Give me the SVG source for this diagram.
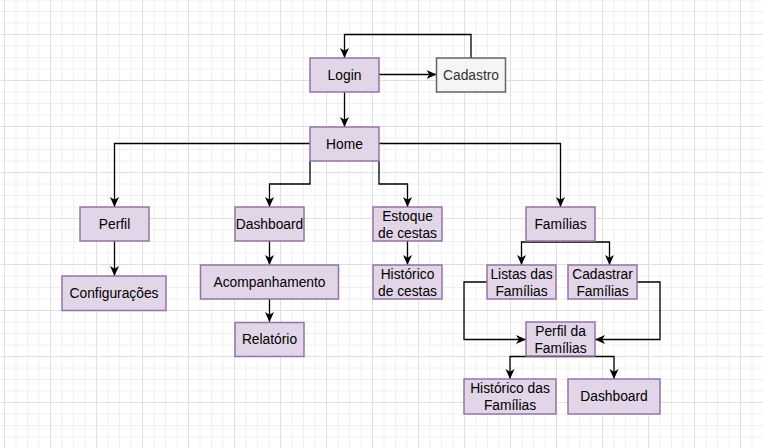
<svg xmlns="http://www.w3.org/2000/svg" width="763" height="448" viewBox="0 0 763 448">
  <defs>
    <pattern id="grid" patternUnits="userSpaceOnUse" x="4" y="-12" width="46" height="46">
      <path d="M12,0V46M23.5,0V46M35,0V46M0,12H46M0,23.5H46M0,35H46" stroke="#f0f0f0" stroke-width="1" fill="none"/>
      <path d="M0.5,0V46M0,0.5H46" stroke="#e0e0e0" stroke-width="1" fill="none"/>
    </pattern>
    <marker id="arrow" markerUnits="userSpaceOnUse" viewBox="0 0 10 10" refX="10" refY="5" markerWidth="10" markerHeight="10" orient="auto">
      <path d="M0,0.5 L10,5 L0,9.5 L2.8,5 Z" fill="#000"/>
    </marker>
  </defs>
  <style>
    .node rect { fill: #e1d5e7; stroke: #9673a6; stroke-width: 1.5; }
    .node text { font-family: "Liberation Sans", Arial, sans-serif; font-size: 13.8px; fill: #000; text-anchor: middle; }
    .gray rect { fill: #f5f5f5; stroke: #666666; }
    .gray text { fill: #333333; }
    .edges path { fill: none; stroke: #000; stroke-width: 1.3; marker-end: url(#arrow); }
  </style>
  <rect x="0" y="0" width="763" height="448" fill="#ffffff"/>
  <rect x="0" y="0" width="763" height="448" fill="url(#grid)"/>

  <g class="edges" id="connectors">
    <path d="M344.5,92 V127"/>
    <path d="M379,74.5 H436.5"/>
    <path d="M471,58 V34.5 H344.5 V58"/>
    <path d="M310,143.5 H114.5 V207"/>
    <path d="M310,161 V184 H269.5 V207"/>
    <path d="M379,161 V184 H407.5 V207"/>
    <path d="M379,143.5 H560.5 V207"/>
    <path d="M114.5,241 V276"/>
    <path d="M269.5,241 V265"/>
    <path d="M269.5,299 V322"/>
    <path d="M407.5,241 V265"/>
    <path d="M560.5,242 H521.5 V265"/>
    <path d="M560.5,242 H609.5 V265"/>
    <path d="M487,282 H464 V339.5 H526"/>
    <path d="M637,282 H660 V339.5 H595"/>
    <path d="M560.5,356.5 H510 V379"/>
    <path d="M560.5,356.5 H614 V379"/>
  </g>

  <g class="node" id="login">
    <rect x="310" y="58" width="69" height="34"/>
    <text x="344.5" y="80">Login</text>
  </g>
  <g class="node gray" id="cadastro">
    <rect x="436.5" y="58" width="69" height="34"/>
    <text x="471" y="80">Cadastro</text>
  </g>
  <g class="node" id="home">
    <rect x="310" y="127" width="69" height="34"/>
    <text x="344.5" y="149">Home</text>
  </g>
  <g class="node" id="perfil">
    <rect x="80" y="207" width="69" height="34"/>
    <text x="114.5" y="229">Perfil</text>
  </g>
  <g class="node" id="configuracoes">
    <rect x="62" y="276" width="104" height="34.5"/>
    <text x="114" y="298">Configurações</text>
  </g>
  <g class="node" id="dashboard">
    <rect x="235" y="207" width="69" height="34"/>
    <text x="269.5" y="229">Dashboard</text>
  </g>
  <g class="node" id="acompanhamento">
    <rect x="200.5" y="265" width="138" height="34"/>
    <text x="269.5" y="287">Acompanhamento</text>
  </g>
  <g class="node" id="relatorio">
    <rect x="235" y="322.5" width="69" height="34"/>
    <text x="269.5" y="344">Relatório</text>
  </g>
  <g class="node" id="estoque">
    <rect x="373" y="207" width="69" height="34"/>
    <text x="407.5" y="221">Estoque</text>
    <text x="407.5" y="238">de cestas</text>
  </g>
  <g class="node" id="historico-cestas">
    <rect x="373" y="265" width="69" height="34"/>
    <text x="407.5" y="279">Histórico</text>
    <text x="407.5" y="296">de cestas</text>
  </g>
  <g class="node" id="familias">
    <rect x="526" y="207" width="69" height="34"/>
    <text x="560.5" y="229">Famílias</text>
  </g>
  <g class="node" id="listas-familias">
    <rect x="487" y="265" width="69" height="34"/>
    <text x="521.5" y="279">Listas das</text>
    <text x="521.5" y="296">Famílias</text>
  </g>
  <g class="node" id="cadastrar-familias">
    <rect x="568" y="265" width="69" height="34"/>
    <text x="602.5" y="279">Cadastrar</text>
    <text x="602.5" y="296">Famílias</text>
  </g>
  <g class="node" id="perfil-familias">
    <rect x="526" y="322" width="69" height="34"/>
    <text x="560.5" y="336">Perfil da</text>
    <text x="560.5" y="353">Famílias</text>
  </g>
  <g class="node" id="historico-familias">
    <rect x="464" y="379" width="92" height="35"/>
    <text x="510" y="393">Histórico das</text>
    <text x="510" y="410">Famílias</text>
  </g>
  <g class="node" id="dashboard-familias">
    <rect x="568" y="379" width="92" height="35"/>
    <text x="614" y="401">Dashboard</text>
  </g>
</svg>
